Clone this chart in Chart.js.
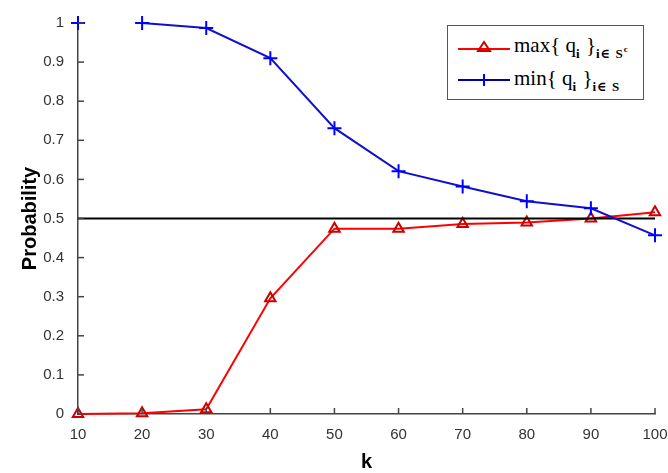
<!DOCTYPE html>
<html>
<head>
<meta charset="utf-8">
<script src="https://cdn.jsdelivr.net/npm/chart.js@4"></script>
<style>
  body { margin: 0; background: #fff; }
  #wrap { position: relative; width: 668px; height: 473px; }
  #legend {
    position: absolute; left: 447px; top: 25px; width: 195px; height: 73px;
    border: 1px solid #555; background: #fff;
    font-family: "Liberation Serif", "DejaVu Serif", serif; font-size: 21px; color: #000;
  }
  .row { position: absolute; left: 10px; height: 30px; line-height: 30px; white-space: nowrap; }
  .row svg { vertical-align: middle; margin-right: 4px; }
  .row sub { font-size: 13px; font-weight: bold; vertical-align: -6px; letter-spacing: 1px; }
  .row sup { font-size: 9px; vertical-align: 6px; }
</style>
</head>
<body>
<div id="wrap">
  <canvas id="chart" width="668" height="473"></canvas>
  <div id="legend">
    <div class="row" style="top:4px">
      <svg width="52" height="14"><line x1="0" y1="9" x2="52" y2="9" stroke="#ff0000" stroke-width="2"/><polygon points="26,2 20,11 32,11" fill="none" stroke="#cc0000" stroke-width="2"/></svg><span>max{ q<sub>i</sub> }<sub>i∈ S<sup>c</sup></sub></span>
    </div>
    <div class="row" style="top:37px">
      <svg width="52" height="14"><line x1="0" y1="7" x2="52" y2="7" stroke="#0000aa" stroke-width="2"/><line x1="26" y1="1" x2="26" y2="13" stroke="#0000ff" stroke-width="2"/></svg><span>min{ q<sub>i</sub> }<sub>i∈ S</sub></span>
    </div>
  </div>
</div>
<script>
const kValues = [10, 20, 30, 40, 50, 60, 70, 80, 90, 100];
const maxQ = [0, 0.002, 0.012, 0.296, 0.474, 0.474, 0.486, 0.49, 0.5, 0.516];
const minQ = [1, 1, 0.987, 0.91, 0.731, 0.621, 0.582, 0.544, 0.526, 0.457];
const threshold = 0.5;
const yTicks = [0, 0.1, 0.2, 0.3, 0.4, 0.5, 0.6, 0.7, 0.8, 0.9, 1];

function pts(arr) {
  return kValues.map((k, i) => ({ x: k, y: arr[i] }));
}

// ticks pointing into the plot
const innerTicks = {
  id: 'innerTicks',
  afterDraw(chart) {
    const c = chart.ctx;
    const xs = chart.scales.x, ys = chart.scales.y;
    const a = chart.chartArea;
    c.save();
    c.strokeStyle = '#444';
    c.lineWidth = 1.5;
    kValues.forEach(k => {
      const px = xs.getPixelForValue(k);
      c.beginPath(); c.moveTo(px, a.bottom); c.lineTo(px, a.bottom - 6); c.stroke();
    });
    yTicks.forEach(v => {
      const py = ys.getPixelForValue(v);
      c.beginPath(); c.moveTo(a.left, py); c.lineTo(a.left + 6, py); c.stroke();
    });
    c.restore();
  }
};

new Chart(document.getElementById('chart'), {
  type: 'line',
  data: {
    datasets: [
      {
        label: 'max',
        data: pts(maxQ),
        borderColor: '#ff0000',
        borderWidth: 2,
        pointStyle: 'triangle',
        pointRadius: 6,
        pointBorderColor: '#cc0000',
        pointBackgroundColor: 'rgba(0,0,0,0)',
        pointBorderWidth: 2,
        tension: 0,
        clip: false,
        order: 3
      },
      {
        label: 'threshold',
        data: [{ x: 10, y: threshold }, { x: 100, y: threshold }],
        borderColor: '#000',
        borderWidth: 2,
        pointRadius: 0,
        order: 2
      },
      {
        label: 'min',
        data: pts(minQ),
        borderColor: '#1010cc',
        borderWidth: 2,
        pointStyle: 'cross',
        pointRadius: 7,
        pointBorderColor: '#0000ff',
        pointBorderWidth: 2,
        tension: 0,
        clip: false,
        segment: {
          borderColor: ctx => ctx.p0DataIndex === 0 ? 'rgba(0,0,0,0)' : undefined
        },
        order: 1
      }
    ]
  },
  options: {
    responsive: false,
    animation: false,
    layout: { padding: { left: 0, right: 13, top: 11, bottom: 0 } },
    plugins: { legend: { display: false }, tooltip: { enabled: false } },
    scales: {
      x: {
        type: 'linear', min: 10, max: 100,
        afterFit: s => { s.height = 59; s.paddingRight = 0; s.paddingLeft = 0; },
        afterBuildTicks: s => { s.ticks = kValues.map(v => ({ value: v })); },
        grid: { display: false, drawTicks: false },
        border: { color: '#444', width: 1.5 },
        ticks: { padding: 12, color: '#333', font: { family: 'Liberation Sans, Arial', size: 15 } },
        title: { display: true, text: 'k', color: '#000', padding: { top: 4, bottom: -1 },
          font: { family: 'Liberation Sans, Arial', size: 20, weight: 'bold' } }
      },
      y: {
        min: 0, max: 1,
        afterFit: s => { s.width = 78; },
        afterBuildTicks: s => { s.ticks = yTicks.map(v => ({ value: v })); },
        grid: { display: false, drawTicks: false },
        border: { color: '#444', width: 1.5 },
        ticks: { padding: 14, color: '#333', font: { family: 'Liberation Sans, Arial', size: 15 },
          callback: v => String(v) },
        title: { display: true, text: 'Probability', color: '#000', padding: { top: 18, bottom: 0 },
          font: { family: 'Liberation Sans, Arial', size: 20, weight: 'bold' } }
      }
    }
  },
  plugins: [innerTicks]
});
</script>
</body>
</html>
